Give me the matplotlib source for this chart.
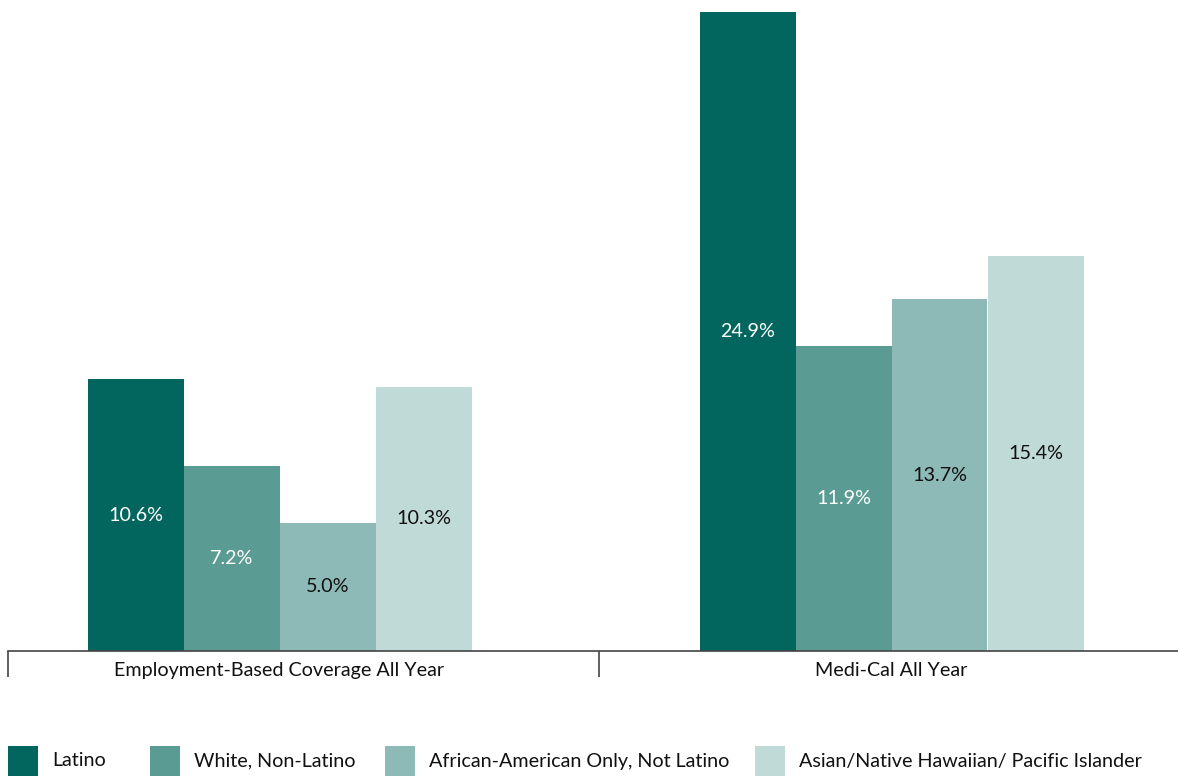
import matplotlib
matplotlib.use("Agg")
import matplotlib.pyplot as plt
from matplotlib.patches import Rectangle

categories = ["Employment-Based Coverage All Year", "Medi-Cal All Year"]
groups = ["Latino", "White, Non-Latino", "African-American Only, Not Latino",
          "Asian/Native Hawaiian/ Pacific Islander"]
values = {
    "Latino": [10.6, 24.9],
    "White, Non-Latino": [7.2, 11.9],
    "African-American Only, Not Latino": [5.0, 13.7],
    "Asian/Native Hawaiian/ Pacific Islander": [10.3, 15.4],
}
colors = ["#03665E", "#5A9C94", "#8DBAB6", "#C0DAD7"]
label_colors = ["white", "white", "#111111", "#111111"]

plt.rcParams["font.family"] = ["Lato", "DejaVu Sans"]
FS = 14.2

W, H = 1178, 776
fig = plt.figure(figsize=(W / 100, H / 100), dpi=100)
ax = fig.add_axes([0, 125 / H, 1, 1 - 125 / H])

# one group per category, centred at 0 and 1
bar_w = 96 / 612
x_left = -279.5 / 612
x_right = (W - 279.5) / 612
ax.set_xlim(x_left, x_right)
ax.set_ylim(0, 651 / 25.66)

for i, g in enumerate(groups):
    offs = (i - 1.5) * bar_w
    xs = [c + offs for c in range(len(categories))]
    bars = ax.bar(xs, values[g], width=bar_w, color=colors[i], linewidth=0)
    for b, v in zip(bars, values[g]):
        ax.text(b.get_x() + b.get_width() / 2, v / 2, f"{v:.1f}%",
                ha="center", va="center", fontsize=FS, color=label_colors[i])

for s in ["top", "right", "left"]:
    ax.spines[s].set_visible(False)
ax.spines["bottom"].set_color("#444444")
ax.spines["bottom"].set_linewidth(1.2)
ax.spines["bottom"].set_bounds((8 - 279.5) / 612, x_right)
ax.set_yticks([])

sep_ticks = [(8 - 279.5) / 612, (599 - 279.5) / 612]
ax.set_xticks(sep_ticks)
ax.set_xticklabels(["", ""])
ax.tick_params(axis="x", direction="out", length=19, width=1.2, color="#444444")

for j, c in enumerate(categories):
    ax.text(j, -0.75, c, ha="center", va="center", fontsize=FS, color="#111111")

# legend row along the bottom edge
sq = 30
legend_x = [8, 150, 385, 755]
for i, g in enumerate(groups):
    x0 = legend_x[i]
    fig.patches.append(Rectangle((x0 / W, 0), sq / W, sq / H, transform=fig.transFigure,
                                 facecolor=colors[i], edgecolor="none"))
    fig.text((x0 + sq + 14) / W, 15 / H, g, ha="left", va="center",
             fontsize=FS, color="#111111")

fig.savefig("out.png", dpi=100)
